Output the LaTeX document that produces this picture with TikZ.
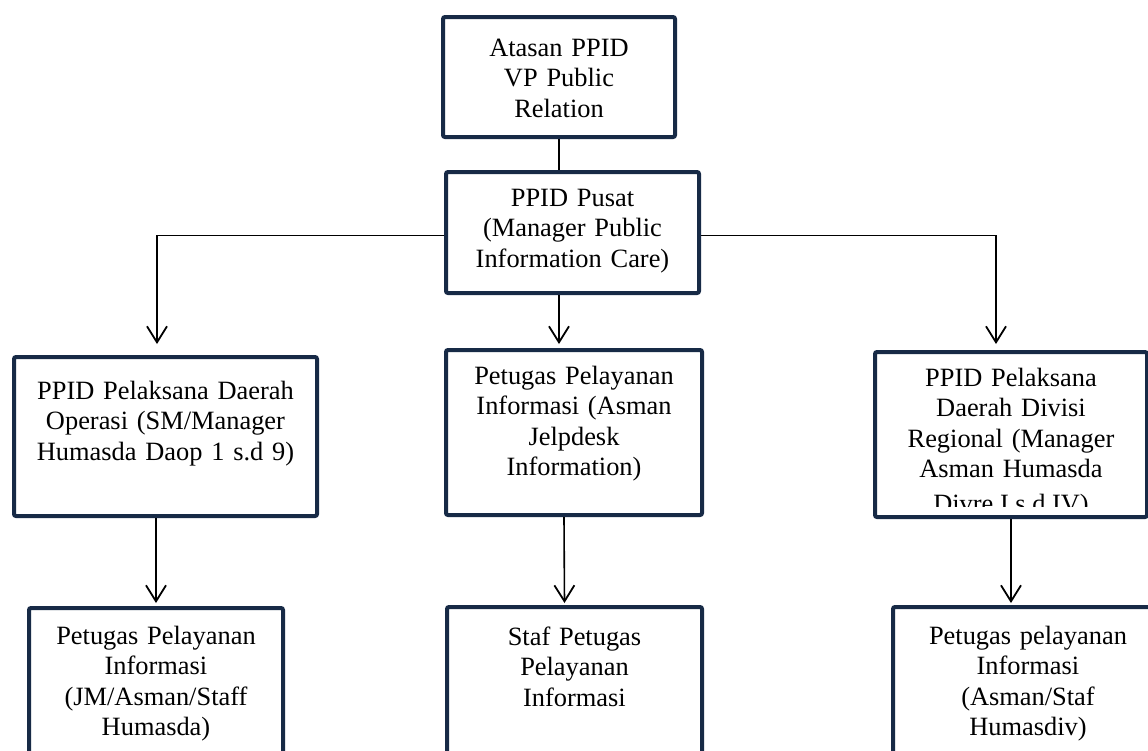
\documentclass[tikz,border=0pt]{standalone}
\usepackage{fontspec}
\setmainfont{Liberation Serif}
\usetikzlibrary{arrows.meta}
\definecolor{boxNavy}{HTML}{172A46}

\begin{document}
\begin{tikzpicture}[x=0.5pt, y=-0.5pt,
	orgBox/.style={rectangle, draw=boxNavy, line width=2pt, fill=white, rounded corners=1pt, inner sep=0pt, anchor=north west, align=center, font=\fontsize{13.2pt}{15.25pt}\selectfont},
	link/.style={line width=0.8pt, black},
	arrowLink/.style={link, -{Straight Barb[length=8pt, width=10pt, line width=0.9pt]}}]
	\path[use as bounding box, clip] (0,0) rectangle (1148,751);

	% top boxes
	\node[orgBox, text width=116pt, text height=19.5pt, text depth=40.5pt](atasanBox) at (441,15){Atasan PPID\\VP Public\\Relation};
	\node[orgBox, text width=126.5pt, text height=17pt, text depth=43.5pt](pusatBox) at (444,170){PPID Pusat\\(Manager Public\\Information Care)};

	% draw middle boxes
	\node[orgBox, text width=151.5pt, text height=21pt, text depth=58.5pt](daopBox) at (12,355){PPID Pelaksana Daerah\\Operasi (SM/Manager\\Humasda Daop 1 s.d 9)};
	\node[orgBox, text width=128pt, text height=17pt, text depth=65.5pt](helpdeskBox) at (444,348){Petugas Pelayanan\\Informasi (Asman\\Jelpdesk\\Information)};
	\node[orgBox, text width=136pt, text height=17pt, text depth=65.5pt](divreBox) at (873,350){PPID Pelaksana\\Daerah Divisi\\Regional (Manager\\Asman Humasda};
	\begin{scope}
		\clip (divreBox.north west) rectangle ([yshift=6.5pt]divreBox.south east);
		\node[anchor=base, font=\fontsize{13.2pt}{15.25pt}\selectfont](divreLast) at ([yshift=3.5pt]divreBox.south){Divre I s.d IV)};
	\end{scope}

	% draw bottom boxes
	\node[orgBox, text width=127pt, text height=18pt, text depth=82pt](daopStaffBox) at (27,606){Petugas Pelayanan\\Informasi\\(JM/Asman/Staff\\Humasda)};
	\node[orgBox, text width=127.5pt, text height=19pt, text depth=81pt](pusatStaffBox) at (445,605){Staf Petugas\\Pelayanan\\Informasi};
	\node[orgBox, text width=135pt, text height=18.5pt, text depth=81.5pt](divreStaffBox) at (891,605){Petugas pelayanan\\Informasi\\(Asman/Staf\\Humasdiv)};

	% connectors
	\draw[link] (atasanBox.south) -- (atasanBox.south |- pusatBox.north);
	\draw[arrowLink] ([yshift=-1.5pt]pusatBox.west) -| ([xshift=-4.25pt, yshift=5.5pt]daopBox.north);
	\draw[arrowLink] (atasanBox.south |- pusatBox.south) -- ([yshift=2pt]atasanBox.south |- helpdeskBox.north);
	\draw[arrowLink] ([yshift=-1.5pt]pusatBox.east) -| ([xshift=-7.5pt, yshift=3pt]divreBox.north);
	\draw[arrowLink] (daopStaffBox.north |- daopBox.south) -- ([yshift=1.5pt]daopStaffBox.north);
	\draw[arrowLink] ([xshift=-5pt]helpdeskBox.south) -- ([xshift=-5pt, yshift=1pt]pusatStaffBox.north);
	\draw[arrowLink] (divreBox.south) -- ([yshift=1pt]divreBox.south |- divreStaffBox.north);
\end{tikzpicture}
\end{document}
